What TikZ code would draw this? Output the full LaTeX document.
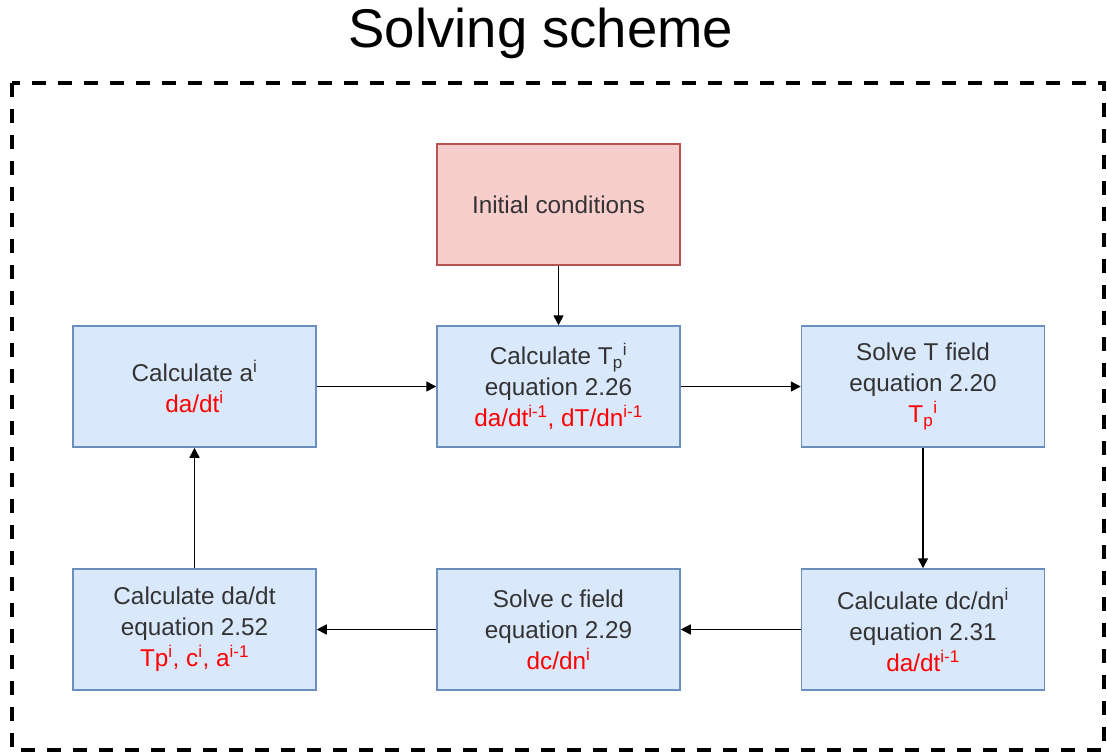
\documentclass[tikz,border=0pt]{standalone}
\usepackage{fontspec}
\setmainfont{Liberation Sans}
\usetikzlibrary{arrows.meta}
\definecolor{bfill}{HTML}{DAE8FC}
\definecolor{bdraw}{HTML}{6C8EBF}
\definecolor{rfill}{HTML}{F8CECC}
\definecolor{rdraw}{HTML}{B85450}
\definecolor{txt}{HTML}{333333}
\definecolor{redt}{HTML}{FF0000}
\newcommand{\sps}[1]{\textsuperscript{#1}}
\newcommand{\sbs}[1]{\textsubscript{#1}}
\newcommand{\rd}[1]{\textcolor{redt}{#1}}
\begin{document}
\begin{tikzpicture}[x=1pt,y=-1pt,
  box/.style={draw=bdraw, fill=bfill, line width=1.5pt, minimum width=243pt, minimum height=121pt,
    inner sep=0pt, align=center, font=\fontsize{24.3}{31}\selectfont, text=txt},
  initbox/.style={box, draw=rdraw, fill=rfill},
  conn/.style={line width=1.6pt, draw=black, -{Triangle[length=10pt,width=10pt]}},
  frame/.style={line width=4pt, dash pattern=on 14pt off 12pt}]
\useasboundingbox (0,0) rectangle (1107,753);
\node[anchor=base, font=\fontsize{54.5}{60}\selectfont, text=black] (title) at (541,47) {Solving scheme};
\draw[frame] (12,83) rectangle (1104,750);
\node[initbox] (init) at (558.5,204.5) {Initial conditions};
\node[box] (ca) at (194.5,386.5) {Calculate a\sps{i}\\\rd{da/dt\sps{i}}};
\node[box] (ct) at (558.5,386.5) {Calculate T\sbs{p}\sps{i}\\equation 2.26\\\rd{da/dt\sps{i-1}, dT/dn\sps{i-1}}};
\node[box] (st) at (923,386.5) {Solve T field\\equation 2.20\\\rd{T\sbs{p}\sps{i}}};
\node[box] (cd) at (194.5,629.5) {Calculate da/dt\\equation 2.52\\\rd{Tp\sps{i}, c\sps{i}, a\sps{i-1}}};
\node[box] (sc) at (558.5,629.5) {Solve c field\\equation 2.29\\\rd{dc/dn\sps{i}}};
\node[box] (cc) at (923,629.5) {Calculate dc/dn\sps{i}\\equation 2.31\\\rd{da/dt\sps{i-1}}};
\draw[conn] (init) -- (ct);
\draw[conn] (ca) -- (ct);
\draw[conn] (ct) -- (st);
\draw[conn] (st) -- (cc);
\draw[conn] (cc) -- (sc);
\draw[conn] (sc) -- (cd);
\draw[conn] (cd) -- (ca);
\end{tikzpicture}
\end{document}
